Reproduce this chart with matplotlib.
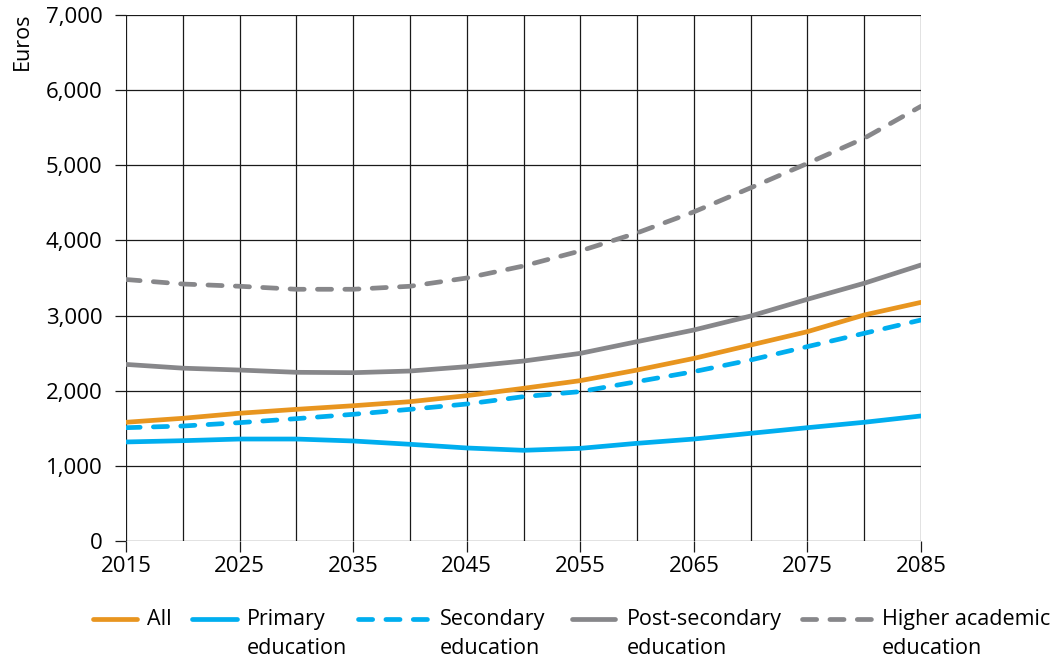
import matplotlib
matplotlib.use("Agg")
import matplotlib.pyplot as plt
from matplotlib.lines import Line2D

plt.rcParams['font.family'] = ['Open Sans', 'DejaVu Sans']

years = [2015, 2020, 2025, 2030, 2035, 2040, 2045, 2050, 2055, 2060, 2065, 2070, 2075, 2080, 2085]
all_edu = [1580, 1633, 1700, 1752, 1800, 1854, 1934, 2032, 2134, 2275, 2430, 2608, 2786, 3008, 3176]
primary = [1318, 1335, 1357, 1357, 1331, 1287, 1238, 1207, 1233, 1300, 1357, 1433, 1508, 1580, 1664]
secondary = [1508, 1530, 1575, 1628, 1686, 1752, 1823, 1921, 1988, 2121, 2254, 2409, 2587, 2764, 2941]
post_secondary = [2350, 2300, 2275, 2245, 2240, 2262, 2320, 2395, 2497, 2653, 2808, 2994, 3217, 3430, 3673]
higher = [3480, 3420, 3390, 3350, 3350, 3390, 3500, 3660, 3860, 4100, 4380, 4700, 5025, 5360, 5785]

labels = ["All", "Primary\neducation", "Secondary\neducation", "Post-secondary\neducation", "Higher academic\neducation"]
x_ticks = [2015, 2025, 2035, 2045, 2055, 2065, 2075, 2085]
y_ticks = [0, 1000, 2000, 3000, 4000, 5000, 6000, 7000]

ORANGE = '#E8951F'
BLUE = '#00AEEF'
GRAY = '#87878A'

W, H = 1058, 661
fig = plt.figure(figsize=(W / 100, H / 100), dpi=100)
ax = fig.add_axes([126 / W, 1 - 541 / H, (921 - 126) / W, (541 - 15) / H])

lw = 3.4
DASH = (3.0, 2.8)
series = [
    (all_edu, ORANGE, '-'),
    (primary, BLUE, '-'),
    (secondary, BLUE, '--'),
    (post_secondary, GRAY, '-'),
    (higher, GRAY, '--'),
]
for vals, c, ls in series:
    kw = dict(color=c, lw=lw, solid_capstyle='round', dash_capstyle='round', zorder=3)
    if ls == '--':
        ax.plot(years, vals, dashes=DASH, **kw)
    else:
        ax.plot(years, vals, **kw)

ax.set_xlim(2015, 2085)
ax.set_ylim(0, 7000)
ax.set_xticks(x_ticks)
ax.set_xticks(years, minor=True)
ax.set_yticks(y_ticks)
ax.set_yticklabels([f"{v:,}" for v in y_ticks])
ax.grid(True, which='both', color='#1a1a1a', lw=0.9)
for s in ax.spines.values():
    s.set_visible(False)
ax.tick_params(axis='both', which='both', length=8, width=0.9, color='#1a1a1a', labelsize=16)
ax.tick_params(axis='x', which='major', pad=3)
ax.tick_params(axis='y', which='major', pad=9)
ax.tick_params(axis='x', which='minor', length=0)
ax.set_axisbelow(True)

fig.text(22 / W, 1 - 13 / H, "Euros", rotation=90, va='top', ha='center', fontsize=15.5)

# legend
handles = [(93, 137, 147), (192, 237, 247), (358, 429, 440), (572, 615, 627), (802, 872, 882)]
hy = 1 - 619 / H
for (x0, x1, tx), (vals, c, ls), lab in zip(handles, series, labels):
    l = Line2D([x0 / W, x1 / W], [hy, hy], transform=fig.transFigure, color=c, lw=lw,
               solid_capstyle='round', dash_capstyle='round')
    if ls == '--':
        l.set_dashes(DASH)
    fig.add_artist(l)
    fig.text(tx / W, 1 - 609 / H, lab, va='top', ha='left', fontsize=15.5, linespacing=1.5)

fig.savefig("out.png", dpi=100)
